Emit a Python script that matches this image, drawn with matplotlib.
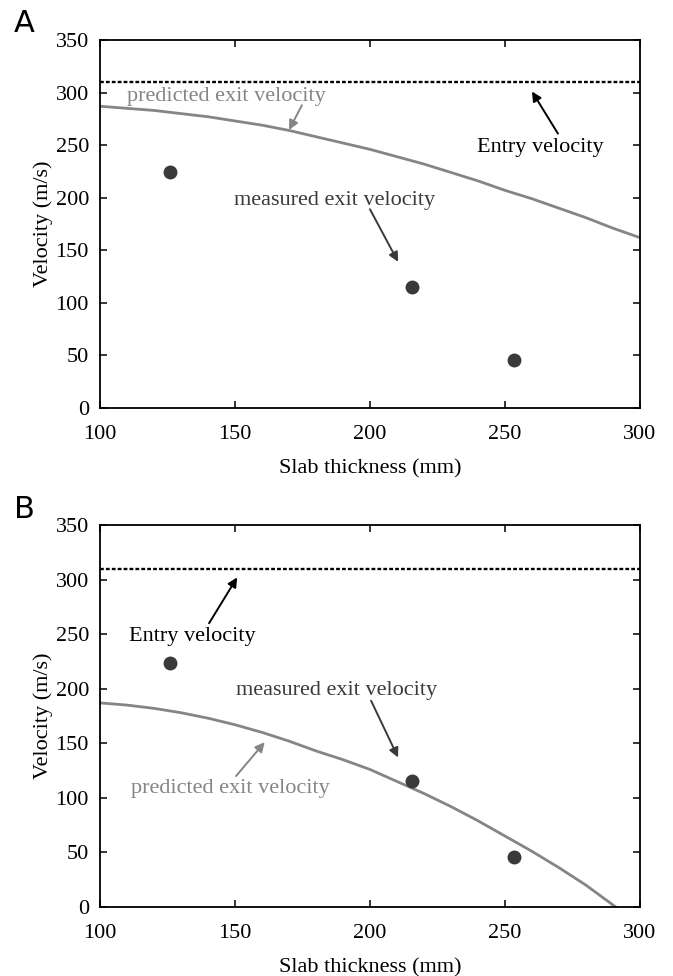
import matplotlib.pyplot as plt

# Data
thickness = [126, 215.5, 253.5]
measured = [224, 115, 46]
entry_velocity = 310

pred_x_a = [100, 110, 120, 130, 140, 150, 160, 170, 180, 190, 200,
            210, 220, 230, 240, 250, 260, 270, 280, 290, 300]
pred_y_a = [287, 285, 283, 280, 277, 273, 269, 264, 258, 252, 246,
            239, 232, 224, 216, 207, 199, 190, 181, 171, 162]

pred_x_b = [100, 110, 120, 130, 140, 150, 160, 170, 180, 190, 200,
            210, 220, 230, 240, 250, 260, 270, 280, 291]
pred_y_b = [187, 185, 182, 178, 173, 167, 160, 152, 143, 135, 126,
            115, 104, 92, 79, 65, 51, 36, 20, 0]

xticks = [100, 150, 200, 250, 300]
yticks = [0, 50, 100, 150, 200, 250, 300, 350]

plt.rcParams['font.family'] = ['Liberation Serif', 'DejaVu Serif']

fig = plt.figure(figsize=(6.73, 9.76), dpi=100)
ax_a = fig.add_axes([100 / 673, 1 - 408 / 976, 540 / 673, 368 / 976])
ax_b = fig.add_axes([100 / 673, 1 - 907 / 976, 540 / 673, 382 / 976])

gray = '#858585'
dark = '#3a3a3a'


def base(ax, px, py):
    ax.axhline(entry_velocity, color='black', lw=1.7, ls=(0, (1.6, 0.9)))
    ax.plot(px, py, color=gray, lw=2.0)
    ax.plot(thickness, measured, 'o', color=dark, ms=9)
    ax.set_xlim(100, 300)
    ax.set_ylim(0, 350)
    ax.set_xticks(xticks)
    ax.set_yticks(yticks)
    ax.tick_params(direction='in', top=True, right=True, length=5, width=1.1,
                   labelsize=16, pad=8)
    ax.tick_params(axis='x', pad=12)
    for s in ax.spines.values():
        s.set_linewidth(1.3)
    ax.set_xlabel('Slab thickness (mm)', fontsize=16, labelpad=11)
    ax.set_ylabel('Velocity (m/s)', fontsize=16, labelpad=2)


def note(ax, text, pos, color):
    ax.text(pos[0], pos[1], text, ha='center', va='center',
            fontsize=16, color=color)


def arrow(ax, tail, tip, color):
    ax.annotate('', xy=tip, xytext=tail,
                arrowprops=dict(arrowstyle='-|>', color=color, lw=1.4,
                                mutation_scale=14, shrinkA=0, shrinkB=0))


# Panel A
base(ax_a, pred_x_a, pred_y_a)
note(ax_a, 'predicted exit velocity', (146.9, 296), gray)
arrow(ax_a, (174.8, 288), (170, 264.5), gray)
note(ax_a, 'Entry velocity', (263.1, 248), 'black')
arrow(ax_a, (269.6, 261), (260, 301), 'black')
note(ax_a, 'measured exit velocity', (187, 197), dark)
arrow(ax_a, (200, 189), (210.4, 139), dark)

# Panel B
base(ax_b, pred_x_b, pred_y_b)
note(ax_b, 'Entry velocity', (134.3, 248), 'black')
arrow(ax_b, (140.4, 260), (150.8, 302), 'black')
note(ax_b, 'measured exit velocity', (187.8, 198), dark)
arrow(ax_b, (200.4, 189), (210.4, 137), dark)
note(ax_b, 'predicted exit velocity', (148.3, 109), gray)
arrow(ax_b, (150.4, 120), (161, 151), gray)

fig.text(24 / 673, 1 - 23 / 976, 'A', family='DejaVu Sans', fontsize=22,
         ha='center', va='center')
fig.text(24 / 673, 1 - 510 / 976, 'B', family='DejaVu Sans', fontsize=22,
         ha='center', va='center')

fig.savefig('out.png', dpi=100)
